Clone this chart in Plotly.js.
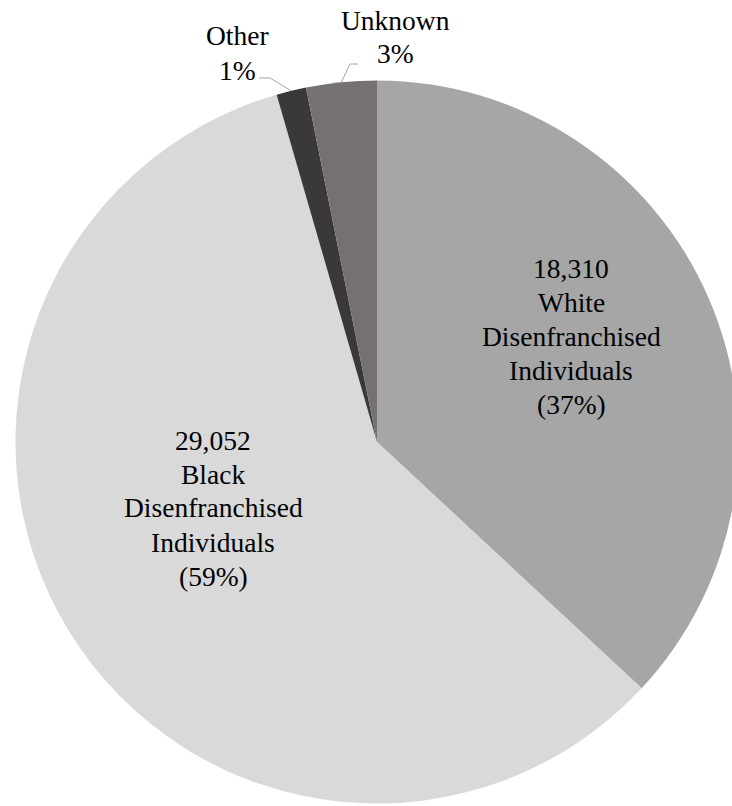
<!DOCTYPE html>
<html>
<head>
<meta charset="utf-8">
<script src="https://cdn.plot.ly/plotly-3.0.1.min.js"></script>
<style>
  html, body { margin: 0; padding: 0; overflow: hidden; background: #fff; }
  #chart { width: 760px; height: 806px; }
</style>
</head>
<body>
<div id="chart"></div>
<script>
// ---- data ----
var categories = ["White", "Black", "Other", "Unknown"];
var values = [18310, 29052, 660, 1560];
var sliceColors = ["#a6a6a6", "#d9d9d9", "#3b3838", "#767171"];

// ---- geometry (pixels) ----
var W = 760, H = 806;
var cx = 377, cy = 442, R = 361.5;
var FONT = "Liberation Serif";
var FS = 27.5, LH = 34;

function px(x) { return x / W; }
function py(y) { return (H - y) / H; }

var total = values.reduce(function (a, b) { return a + b; }, 0);
function pct(v) { return Math.round(100 * v / total) + "%"; }
function fmt(v) { return v.toLocaleString("en-US"); }

var annotations = [];
function addBlock(lines, x, yc) {
  var n = lines.length;
  lines.forEach(function (t, i) {
    annotations.push({
      xref: "paper", yref: "paper",
      x: px(x), y: py(yc + (i - (n - 1) / 2) * LH),
      xanchor: "center", yanchor: "middle",
      text: t, showarrow: false,
      font: { family: FONT, size: FS, color: "#000" }
    });
  });
}

addBlock([fmt(values[0]), categories[0], "Disenfranchised", "Individuals", "(" + pct(values[0]) + ")"], 571, 336);
addBlock([fmt(values[1]), categories[1], "Disenfranchised", "Individuals", "(" + pct(values[1]) + ")"], 213, 508);
addBlock([categories[2], pct(values[2])], 237, 53);
addBlock([categories[3], pct(values[3])], 396, 37);

// leader lines from slice mid-angles (derived from data)
var cum = 0, mids = [];
values.forEach(function (v) {
  mids.push((cum + v / 2) / total * 2 * Math.PI);
  cum += v;
});
function edge(a) { return [cx + R * Math.sin(a), cy - R * Math.cos(a)]; }
var shapes = [];
var eO = edge(mids[2]);
var eU = edge(mids[3]);
function pathOf(pts) {
  return pts.map(function (p, i) { return (i ? "L" : "M") + px(p[0]) + "," + py(p[1]); }).join(" ");
}
shapes.push({ type: "path", xref: "paper", yref: "paper",
  path: pathOf([eO, [270, 78], [259, 78]]), line: { color: "#a6a6a6", width: 1 } });
shapes.push({ type: "path", xref: "paper", yref: "paper",
  path: pathOf([eU, [350, 64], [358, 64]]), line: { color: "#a6a6a6", width: 1 } });

var trace = {
  type: "pie",
  labels: categories,
  values: values,
  sort: false,
  direction: "clockwise",
  rotation: 0,
  textinfo: "none",
  hoverinfo: "label+value+percent",
  marker: { colors: sliceColors, line: { width: 0 } },
  domain: { x: [(cx - R) / W, (cx + R) / W], y: [(H - cy - R) / H, (H - cy + R) / H] }
};

var layout = {
  width: W, height: H,
  margin: { l: 0, r: 0, t: 0, b: 0, pad: 0 },
  showlegend: false,
  paper_bgcolor: "#fff",
  font: { family: FONT },
  annotations: annotations,
  shapes: shapes
};

Plotly.newPlot("chart", [trace], layout, { displayModeBar: false, staticPlot: true });
</script>
</body>
</html>
